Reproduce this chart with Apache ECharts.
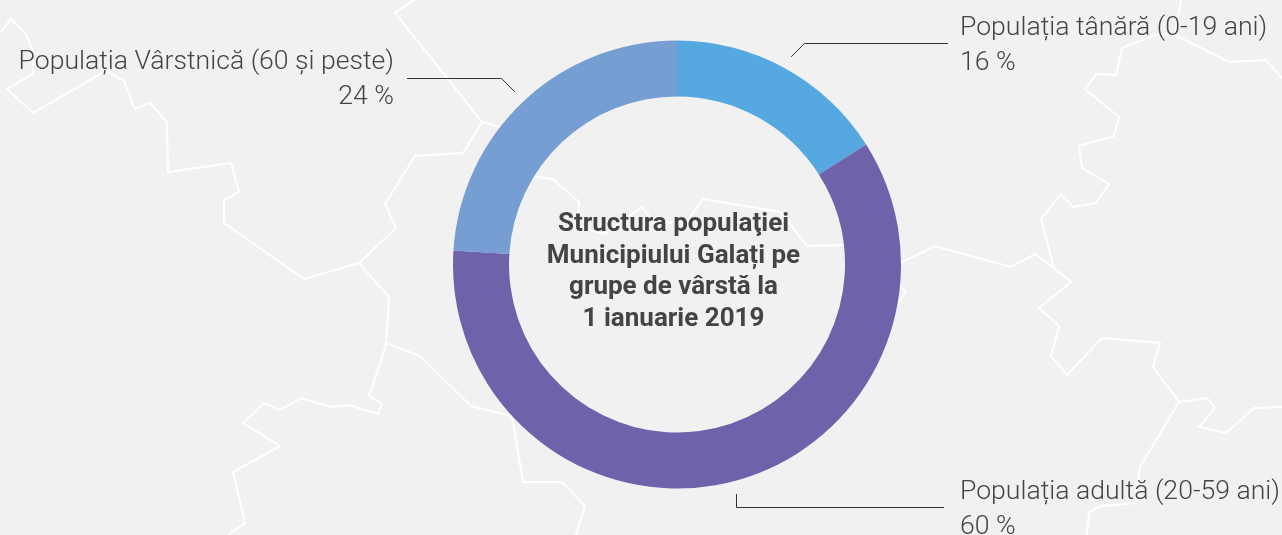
<!DOCTYPE html>
<html>
<head>
<meta charset="utf-8">
<title>Structura populației</title>
<script src="https://cdn.jsdelivr.net/npm/echarts@6/dist/echarts.min.js"></script>
<style>
  html, body { margin: 0; padding: 0; background: #f1f1f1; }
  #chart { width: 1282px; height: 535px; }
</style>
</head>
<body>
<div id="chart"></div>
<script>
const categories = ["Populația tânără (0-19 ani)", "Populația adultă (20-59 ani)", "Populația Vârstnică (60 și peste)"];
const values = [16, 60, 24];
const colors = ["#56a9e0", "#6e62aa", "#769ed2"];
const centerTitle = "Structura populaţiei\nMunicipiului Galați pe\ngrupe de vârstă la\n1 ianuarie 2019";

// where each label goes: x of text edge, y of the leader elbow, top of the text
const labelX = [960, 960, 394];
const labelTop = [11, 475, 45];
const elbowY = [43.5, 507.5, 78.5];
const lineEndX = [948, 944, 407];

const cx = 677;
const cy = 264.5;
const outerR = 224;
const innerR = 168;
const leaderGap = 13;

// the map outlines behind the chart
const mapLines = [
  [[414, 0], [395, 13], [482, 122], [463, 153], [415, 156], [385, 204], [396, 228], [359, 263], [304, 279], [224, 223], [224, 200], [239, 192], [231, 163], [168, 172], [167, 122], [150, 103], [135, 109], [124, 81], [106, 71], [33, 113], [7, 89], [33, 74], [33, 50], [25, 33], [11, 19], [0, 33]],
  [[359, 263], [389, 297], [386, 345], [369, 396], [382, 404], [378, 414], [349, 405], [331, 407], [301, 398], [280, 410], [264, 403], [243, 423], [280, 446], [233, 472], [245, 523], [228, 535]],
  [[386, 343], [420, 356], [471, 406], [512, 416], [523, 482], [562, 482], [585, 506], [576, 535]],
  [[482, 122], [510, 130]],
  [[530, 176], [553, 179], [579, 202], [578, 227], [604, 234], [642, 207], [654, 223], [687, 222], [703, 199], [781, 212], [807, 246], [850, 245]],
  [[890, 268], [935, 246], [1011, 267], [1035, 254], [1054, 268], [1071, 282], [1039, 308], [1059, 326], [1051, 356], [1067, 375], [1102, 338], [1160, 343], [1153, 367], [1179, 402], [1207, 398], [1215, 408], [1199, 427], [1226, 433], [1254, 408], [1282, 407]],
  [[1179, 402], [1140, 467], [1135, 503], [1101, 506], [1089, 512], [1087, 535]],
  [[1054, 268], [1041, 219], [1061, 194], [1073, 207], [1096, 203], [1109, 184], [1082, 168], [1079, 146], [1114, 136], [1119, 117], [1085, 89], [1096, 74], [1116, 75], [1122, 48], [1158, 34], [1175, 35], [1229, 62], [1266, 60], [1282, 78]],
  [[1181, 0], [1175, 35]],
  [[895, 283], [906, 292], [895, 308]]
];

const total = values.reduce((a, b) => a + b, 0);

function midAngle(index) {
  let before = 0;
  for (let i = 0; i < index; i++) before += values[i];
  return ((before + values[index] / 2) / total) * Math.PI * 2;
}

function leaderPoints(index) {
  const a = midAngle(index);
  const r = outerR + leaderGap;
  const x = cx + r * Math.sin(a);
  const y = cy - r * Math.cos(a);
  const rise = Math.abs(y - elbowY[index]);
  const dir = lineEndX[index] > x ? 1 : -1;
  const elbowX = Math.sin(a) > 0.4 || Math.sin(a) < -0.4 ? x + dir * rise : Math.round(x) + 0.5;
  const startX = elbowX === Math.round(x) + 0.5 ? elbowX : x;
  return [[startX, y], [elbowX, elbowY[index]], [lineEndX[index], elbowY[index]]];
}

const chart = echarts.init(document.getElementById("chart"), null, { renderer: "canvas" });

chart.setOption({
  backgroundColor: "#f1f1f1",
  animation: false,
  title: {
    text: centerTitle,
    left: 668.5,
    top: 204,
    textAlign: "center",
    textStyle: {
      fontFamily: "Roboto",
      fontSize: 26,
      fontWeight: 700,
      color: "#444444",
      lineHeight: 31.5
    }
  },
  graphic: mapLines.map((pts) => ({
    type: "polyline",
    silent: true,
    z: 0,
    shape: { points: pts },
    style: { stroke: "#ffffff", lineWidth: 2, fill: null }
  })),
  series: [
    {
      type: "pie",
      center: [cx, cy],
      radius: [innerR, outerR],
      startAngle: 90,
      clockwise: true,
      avoidLabelOverlap: false,
      data: categories.map((name, i) => ({
        name: name,
        value: values[i],
        itemStyle: { color: colors[i] }
      })),
      label: {
        show: true,
        formatter: "{b}\n{c} %",
        fontFamily: "Roboto",
        fontSize: 26.6,
        fontWeight: 300,
        color: "#444444",
        lineHeight: 35
      },
      labelLine: {
        show: true,
        smooth: false,
        lineStyle: { color: "#333333", width: 1 }
      },
      labelLayout: (params) => ({
        x: labelX[params.dataIndex],
        y: labelTop[params.dataIndex],
        align: params.dataIndex === 2 ? "right" : "left",
        verticalAlign: "top",
        labelLinePoints: leaderPoints(params.dataIndex)
      })
    }
  ]
});
</script>
</body>
</html>
